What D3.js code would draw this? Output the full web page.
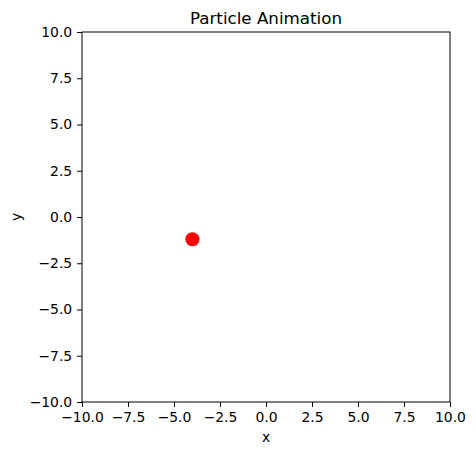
<!DOCTYPE html>
<html><head><meta charset="utf-8">
<script src="https://cdn.jsdelivr.net/npm/d3@7"></script>
<style>body{margin:0;background:#fff}text{font-family:"DejaVu Sans",sans-serif}</style>
</head><body><svg id="c" width="476" height="455"></svg>
<script>
const xTicks=[-10,-7.5,-5,-2.5,0,2.5,5,7.5,10];
const yTicks=[-10,-7.5,-5,-2.5,0,2.5,5,7.5,10];
const px=[-4.0], py=[-1.2];
const svg=d3.select("#c");
const L=82,R=450,T=32,B=402;
const x=d3.scaleLinear().domain([-10,10]).range([L,R]);
const y=d3.scaleLinear().domain([-10,10]).range([B,T]);
const fmt=d3.format(".1f");
const fx=v=>(v<0?"−":"")+fmt(Math.abs(v));
svg.append("g").attr("transform",`translate(0,${B})`).call(d3.axisBottom(x).tickValues(xTicks).tickFormat(fx).tickSize(4.9).tickPadding(4.9))
 .call(g=>{g.select(".domain").remove();g.selectAll("text").attr("font-size",13.9).attr("fill","#000");g.selectAll("line").attr("stroke","#000");});
svg.append("g").attr("transform",`translate(${L},0)`).call(d3.axisLeft(y).tickValues(yTicks).tickFormat(fx).tickSize(4.9).tickPadding(4.9))
 .call(g=>{g.select(".domain").remove();g.selectAll("text").attr("font-size",13.9).attr("fill","#000");g.selectAll("line").attr("stroke","#000");});
svg.append("rect").attr("x",L).attr("y",T).attr("width",R-L).attr("height",B-T).attr("fill","none").attr("stroke","#000").attr("stroke-width",1);
svg.selectAll("circle.p").data(px).enter().append("circle").attr("cx",(d)=>x(d)).attr("cy",(d,i)=>y(py[i])).attr("r",7).attr("fill","red");
svg.append("text").attr("x",(L+R)/2).attr("y",T-8).attr("text-anchor","middle").attr("font-size",16.7).text("Particle Animation");
svg.append("text").attr("x",(L+R)/2).attr("y",442).attr("text-anchor","middle").attr("font-size",13.9).text("x");
svg.append("text").attr("transform",`translate(21,${(T+B)/2}) rotate(-90)`).attr("text-anchor","middle").attr("font-size",13.9).text("y");
</script></body></html>
